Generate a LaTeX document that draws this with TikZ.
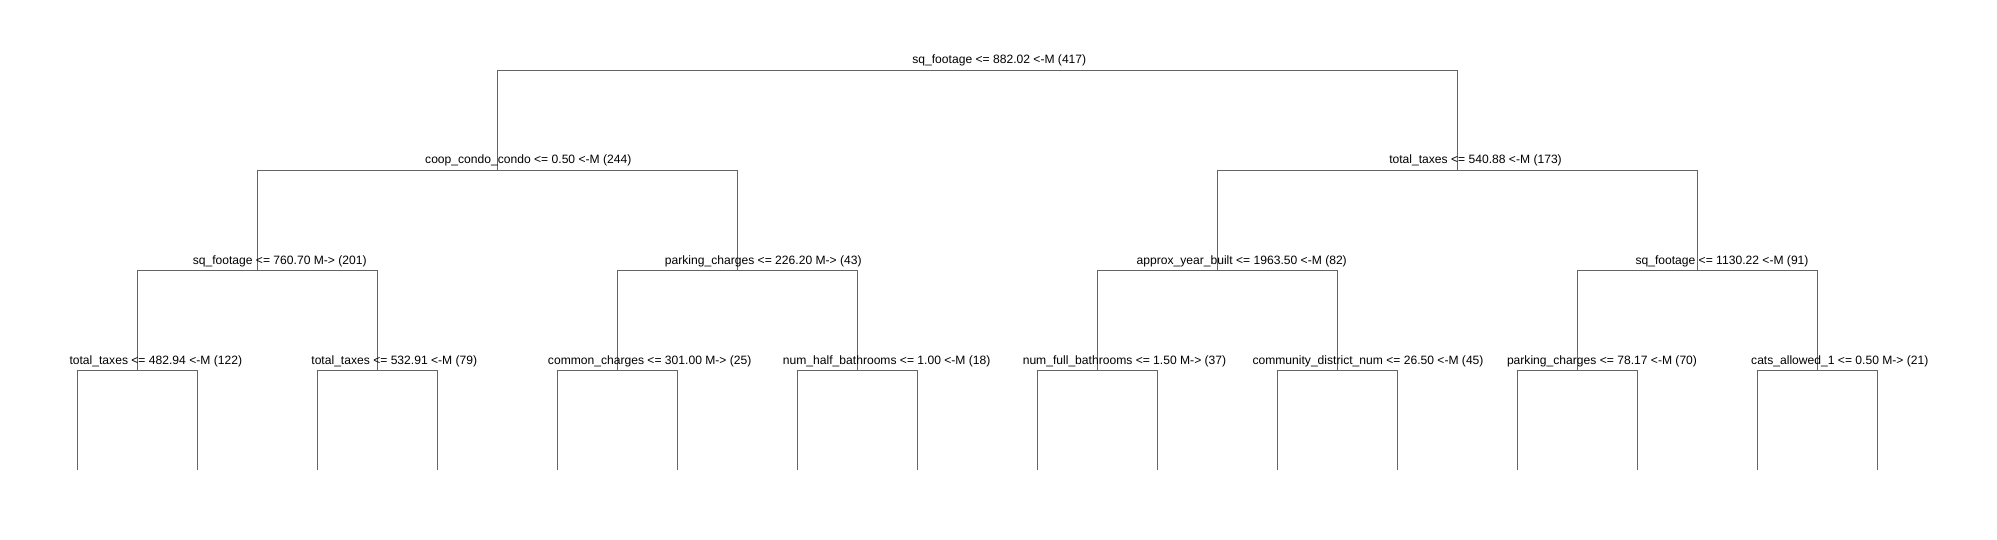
\documentclass[tikz,border=0pt]{standalone}
\usepackage{fontspec}
\setmainfont{Liberation Sans}
\definecolor{linegray}{RGB}{100,100,100}
\tikzset{
  edge/.style={draw=linegray, line width=1pt},
  lab/.style={anchor=base, inner sep=0pt, text=black, font=\fontsize{12.1}{14}\selectfont}
}
\begin{document}
\begin{tikzpicture}[x=1pt,y=-1pt]
\useasboundingbox (0,0) rectangle (1997,540);
% split points
\coordinate (r) at (977.3,70.5);
\coordinate (a) at (497.3,170.5);
\coordinate (b) at (1457.3,170.5);
\coordinate (c) at (257.3,270.5);
\coordinate (d) at (737.3,270.5);
\coordinate (e) at (1217.3,270.5);
\coordinate (f) at (1697.3,270.5);
\coordinate (g) at (137.3,370.5);
\coordinate (h) at (377.3,370.5);
\coordinate (i) at (617.3,370.5);
\coordinate (j) at (857.3,370.5);
\coordinate (k) at (1097.3,370.5);
\coordinate (l) at (1337.3,370.5);
\coordinate (m) at (1577.3,370.5);
\coordinate (n) at (1817.3,370.5);
\foreach \q in {1,...,16}{
  \coordinate (leaf\q) at ({77.3+120*(\q-1)},470);
}
% connectors
\draw[edge] (a) |- (r) -| (b);
\draw[edge] (c) |- (a) -| (d);
\draw[edge] (e) |- (b) -| (f);
\draw[edge] (g) |- (c) -| (h);
\draw[edge] (i) |- (d) -| (j);
\draw[edge] (k) |- (e) -| (l);
\draw[edge] (m) |- (f) -| (n);
\draw[edge] (leaf1) |- (g) -| (leaf2);
\draw[edge] (leaf3) |- (h) -| (leaf4);
\draw[edge] (leaf5) |- (i) -| (leaf6);
\draw[edge] (leaf7) |- (j) -| (leaf8);
\draw[edge] (leaf9) |- (k) -| (leaf10);
\draw[edge] (leaf11) |- (l) -| (leaf12);
\draw[edge] (leaf13) |- (m) -| (leaf14);
\draw[edge] (leaf15) |- (n) -| (leaf16);
% labels
\node[lab] (tr) at (999.3,64) {sq\_footage <= 882.02 <-M (417)};
\node[lab] (ta) at (528.3,164) {coop\_condo\_condo <= 0.50 <-M (244)};
\node[lab] (tb) at (1475.5,164) {total\_taxes <= 540.88 <-M (173)};
\node[lab] (tc) at (279.7,264) {sq\_footage <= 760.70 M-> (201)};
\node[lab] (td) at (763.3,264) {parking\_charges <= 226.20 M-> (43)};
\node[lab] (te) at (1241.7,264) {approx\_year\_built <= 1963.50 <-M (82)};
\node[lab] (tf) at (1722,264) {sq\_footage <= 1130.22 <-M (91)};
\node[lab] (tg) at (155.8,364) {total\_taxes <= 482.94 <-M (122)};
\node[lab] (th) at (394.3,364) {total\_taxes <= 532.91 <-M (79)};
\node[lab] (ti) at (649.7,364) {common\_charges <= 301.00 M-> (25)};
\node[lab] (tj) at (886.7,364) {num\_half\_bathrooms <= 1.00 <-M (18)};
\node[lab] (tk) at (1124.5,364) {num\_full\_bathrooms <= 1.50 M-> (37)};
\node[lab] (tl) at (1368,364) {community\_district\_num <= 26.50 <-M (45)};
\node[lab] (tm) at (1602,364) {parking\_charges <= 78.17 <-M (70)};
\node[lab] (tn) at (1839.8,364) {cats\_allowed\_1 <= 0.50 M-> (21)};
\end{tikzpicture}
\end{document}
